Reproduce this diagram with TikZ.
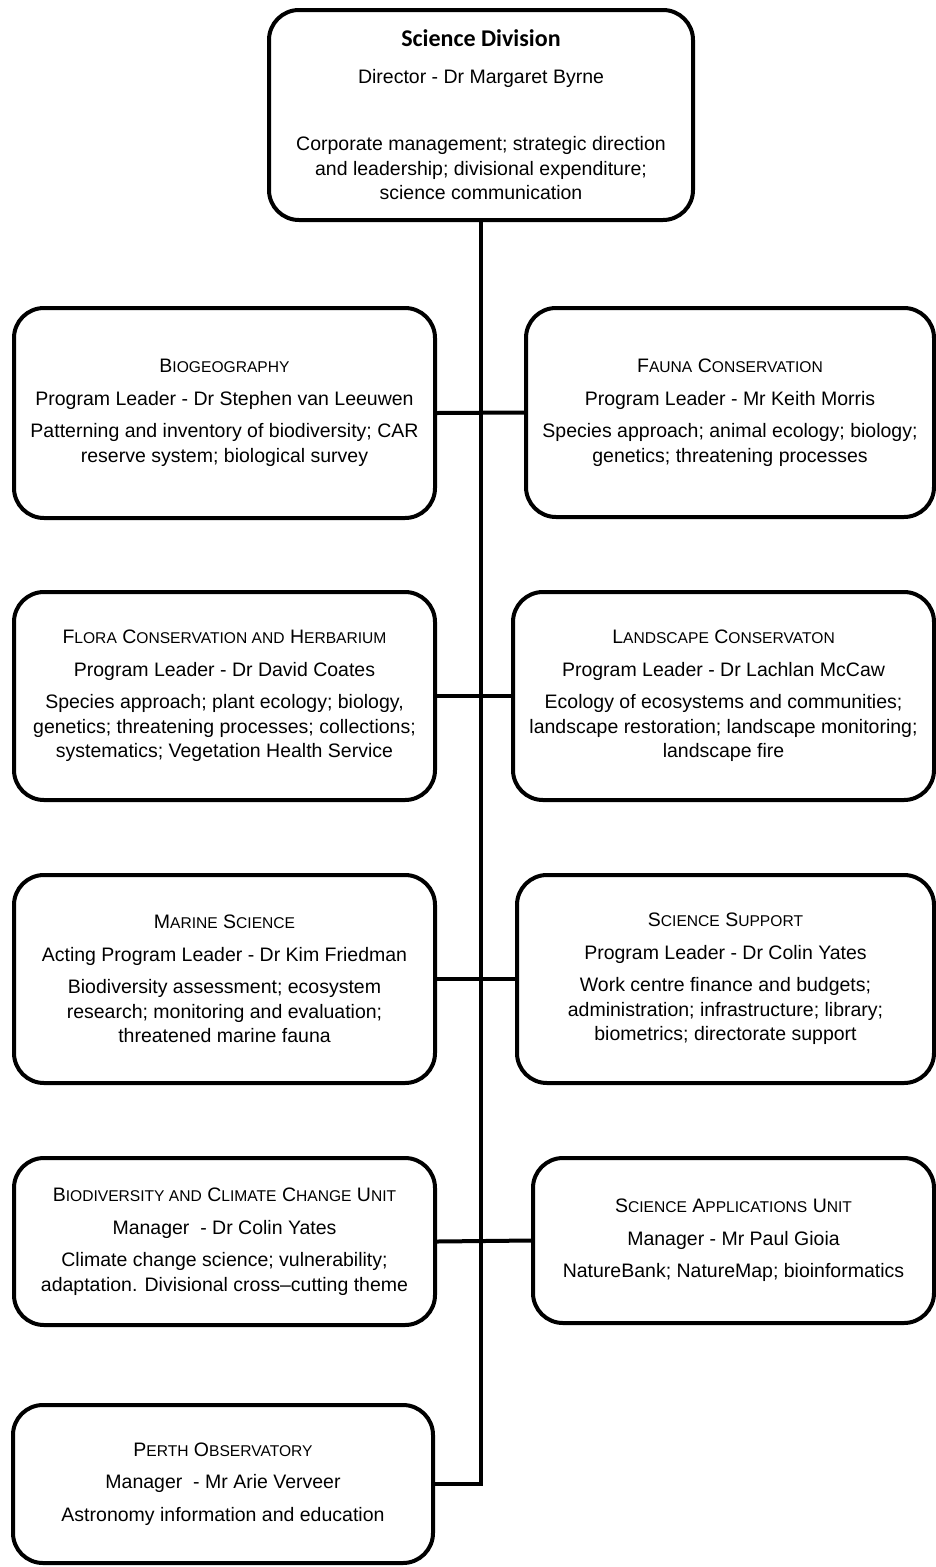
\documentclass[tikz,border=0pt]{standalone}
\usepackage{fontspec}
\setmainfont{Liberation Sans}
\newfontfamily\titlefont{Carlito}
\newcommand{\bodysize}{\fontsize{19.5}{24.5}\selectfont}
\newcommand{\smc}[1]{{\fontsize{15.6}{15.6}\selectfont\MakeUppercase{#1}}}

\begin{document}
\begin{tikzpicture}[x=1pt,y=-1pt,
  unit/.style={draw,line width=4pt,rounded corners=30pt,align=center,inner sep=0pt,font=\bodysize},
  link/.style={line width=4pt}]
\useasboundingbox (0,0) rectangle (936,1567);
% division head
\node[unit,minimum width=424pt,minimum height=210pt] (div) at (481,115)
  {{\titlefont\bfseries\fontsize{24}{24.5}\selectfont Science Division}\\[12pt]
   Director - Dr Margaret Byrne\\[43pt]
   Corporate management; strategic direction\\
   and leadership; divisional expenditure;\\
   science communication};
% programs
\node[unit,minimum width=421pt,minimum height=210pt] (bio) at (224.5,413)
  {B\smc{iogeography}\\[8pt]
   Program Leader - Dr Stephen van Leeuwen\\[8pt]
   Patterning and inventory of biodiversity; CAR\\
   reserve system; biological survey};
\node[unit,minimum width=408pt,minimum height=209pt] (fauna) at (730,412.5)
  {F\smc{auna} C\smc{onservation}\\[8pt]
   Program Leader - Mr Keith Morris\\[8pt]
   Species approach; animal ecology; biology;\\
   genetics; threatening processes};
\node[unit,minimum width=421pt,minimum height=208pt] (flora) at (224.5,696)
  {F\smc{lora} C\smc{onservation and} H\smc{erbarium}\\[8pt]
   Program Leader - Dr David Coates\\[8pt]
   Species approach; plant ecology; biology,\\
   genetics; threatening processes; collections;\\
   systematics; Vegetation Health Service};
\node[unit,minimum width=421pt,minimum height=208pt] (land) at (723.5,696)
  {L\smc{andscape} C\smc{onservaton}\\[8pt]
   Program Leader - Dr Lachlan McCaw\\[8pt]
   Ecology of ecosystems and communities;\\
   landscape restoration; landscape monitoring;\\
   landscape fire};
\node[unit,minimum width=421pt,minimum height=208pt] (marine) at (224.5,979)
  {M\smc{arine} S\smc{cience}\\[8pt]
   Acting Program Leader - Dr Kim Friedman\\[8pt]
   Biodiversity assessment; ecosystem\\
   research; monitoring and evaluation;\\
   threatened marine fauna};
\node[unit,minimum width=417pt,minimum height=208pt] (support) at (725.5,979)
  {S\smc{cience} S\smc{upport}\\[8pt]
   Program Leader - Dr Colin Yates\\[8pt]
   Work centre finance and budgets;\\
   administration; infrastructure; library;\\
   biometrics; directorate support};
% units
\node[unit,minimum width=421pt,minimum height=167pt] (biodiv) at (224.5,1241.5)
  {B\smc{iodiversity and} C\smc{limate} C\smc{hange} U\smc{nit}\\[8pt]
   Manager\ \ - Dr Colin Yates\\[8pt]
   Climate change science; vulnerability;\\
   adaptation. Divisional cross--cutting theme};
\node[unit,minimum width=401pt,minimum height=165pt] (sciapp) at (733.5,1240.5)
  {S\smc{cience} A\smc{pplications} U\smc{nit}\\[8pt]
   Manager - Mr Paul Gioia\\[8pt]
   NatureBank; NatureMap; bioinformatics};
\node[unit,minimum width=420pt,minimum height=158pt] (perth) at (223,1484)
  {P\smc{erth} O\smc{bservatory}\\[8pt]
   Manager\ \ - Mr Arie Verveer\\[8pt]
   Astronomy information and education};
% connectors
\draw[link] (div.south) |- (perth.east);
\foreach \l/\r in {bio/fauna,flora/land,marine/support,biodiv/sciapp} {
  \draw[link] (\l.east) -- (\r.west);
}
\end{tikzpicture}
\end{document}
